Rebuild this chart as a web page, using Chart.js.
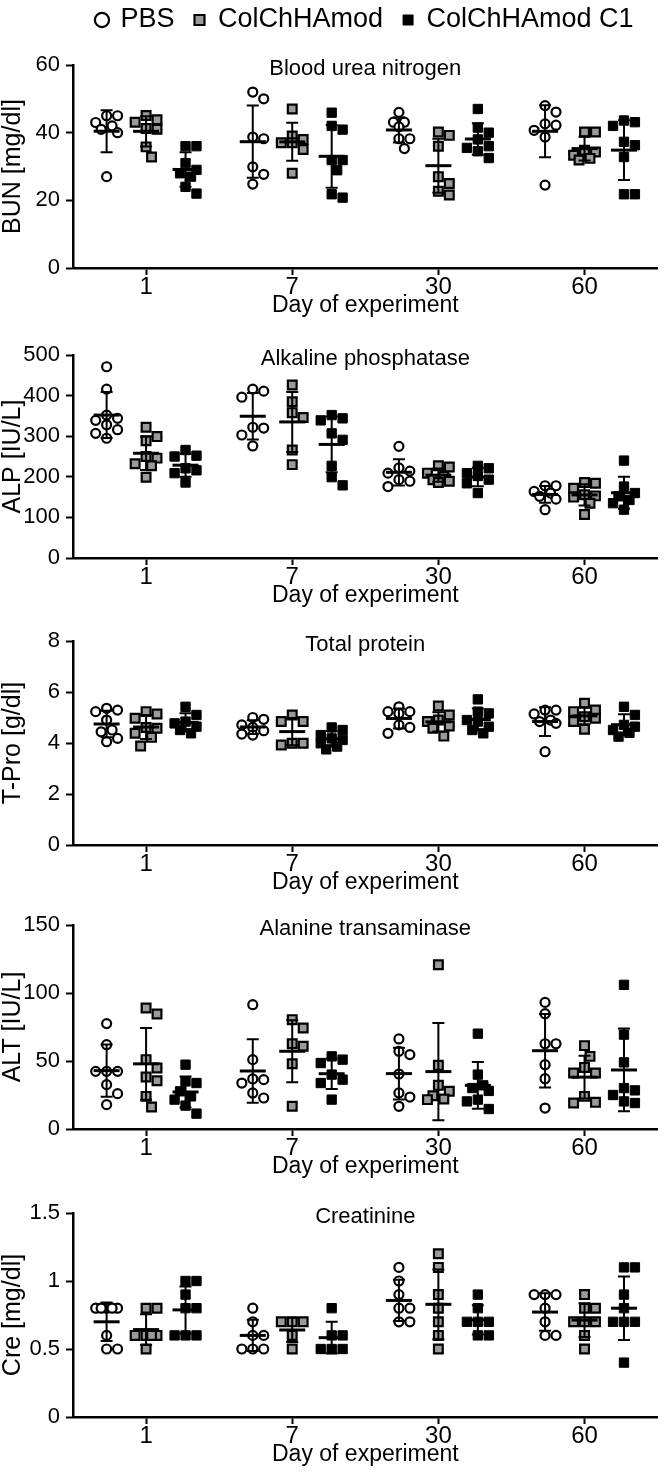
<!DOCTYPE html>
<html>
<head>
<meta charset="utf-8">
<script src="https://cdn.jsdelivr.net/npm/chart.js@4.4.1/dist/chart.umd.min.js"></script>
<style>
  html, body { margin: 0; padding: 0; background: #fff; }
  .panel { position: relative; width: 666px; }
</style>
</head>
<body>
<div class="panel" style="height:330px"><canvas id="c0"></canvas></div>
<div class="panel" style="height:285px"><canvas id="c1"></canvas></div>
<div class="panel" style="height:285px"><canvas id="c2"></canvas></div>
<div class="panel" style="height:288px"><canvas id="c3"></canvas></div>
<div class="panel" style="height:285px"><canvas id="c4"></canvas></div>
<script>
const DAYS = ['1', '7', '30', '60']
const GROUPS = ['PBS', 'ColChHAmod', 'ColChHAmod C1']

// one inner array per day (1, 7, 30, 60), one value per animal
const BUN_PBS = [[45, 45, 43, 42, 41, 40, 27], [52, 50, 38.7, 38.2, 29.9, 27.7, 24.8], [46, 43.1, 43.1, 41.7, 38.2, 38.2, 35.3], [48, 46.1, 42.6, 42.2, 40.7, 38.7, 24.5]]
const BUN_COL = [[45.1, 43.8, 43.1, 41.2, 41, 35.8, 32.8], [47, 39, 38, 37, 37, 35, 28], [40.2, 39.2, 36, 27, 25, 22.7, 21.6], [40.2, 40.2, 34.8, 34.3, 33.3, 32.4, 31.9]]
const BUN_C1 = [[36, 36, 31, 29, 28, 27, 24, 22], [45.9, 42, 40.9, 31.9, 31.9, 28.9, 21.8, 20.8], [47, 41.5, 40, 38, 36, 35.5, 34.5, 32.5], [43.6, 43.1, 42, 37.3, 36.3, 32.8, 21.8, 21.8]]

const ALP_PBS = [[471, 416, 352, 344, 339, 328, 316, 307, 295], [416, 411, 396, 322, 320, 303, 276], [275, 222, 214, 209, 193, 189, 176], [178, 178, 164, 160, 152, 145, 119]]
const ALP_COL = [[322, 299, 289, 250, 246, 232, 227, 199], [426, 385, 358, 346, 266, 230], [227, 224, 209, 201, 193, 189, 186], [186, 184, 172, 156, 153, 150, 135, 107]]
const ALP_C1 = [[266, 252, 250, 221, 216, 209, 186], [352, 344, 339, 307, 291, 227, 199, 179], [227, 221, 209, 202, 193, 184, 160], [240, 176, 160, 152, 143, 135, 119]]

const TPRO_PBS = [[5.36, 5.29, 5.23, 4.9, 4.51, 4.44, 4.18, 4.05], [5.0, 4.93, 4.71, 4.61, 4.48, 4.35, 4.31], [5.42, 5.23, 5.23, 5.16, 4.71, 4.61, 4.38], [5.29, 5.29, 5.14, 4.9, 4.84, 4.77, 3.66]]
const TPRO_COL = [[5.23, 5.14, 4.97, 4.61, 4.58, 4.38, 4.22, 3.88], [5.1, 4.84, 4.84, 3.99, 3.99, 3.92], [5.45, 5.1, 4.9, 4.84, 4.67, 4.58, 4.27], [5.56, 5.29, 5.23, 5.03, 4.97, 4.84, 4.54]]
const TPRO_C1 = [[5.42, 5.1, 4.84, 4.77, 4.64, 4.51, 4.38], [4.61, 4.51, 4.31, 4.18, 4.12, 3.99, 3.86, 3.75], [5.71, 5.23, 5.16, 4.9, 4.84, 4.64, 4.51, 4.38], [5.42, 5.1, 4.71, 4.64, 4.51, 4.4, 4.25]]

const ALT_PBS = [[77.5, 62, 42.4, 42.4, 42.4, 32.6, 26, 17.9], [91.4, 51, 36.8, 36.3, 33.8, 26.5, 22.8], [66.2, 57.1, 54.7, 40.4, 26.5, 23.5, 16.7], [93.1, 84.8, 62.7, 62.7, 47.3, 37, 15.4]]
const ALT_COL = [[89, 84.6, 51, 44.9, 38.2, 35.5, 24, 16.2], [80.4, 74.3, 62.7, 60.8, 48, 16.7], [120.8, 46.8, 32.1, 27.7, 24.5, 22, 21.6], [61.3, 53.4, 45.3, 41.2, 41.2, 24, 19.6, 19.1]]
const ALT_C1 = [[47.3, 35, 33.8, 27.7, 24, 21.6, 17.2, 11.3], [53.4, 51, 48.5, 40, 36.3, 33.8, 21.6], [70.1, 40, 32.1, 30.1, 28, 21.6, 20.3, 14.7], [106, 69.4, 49, 30.1, 28.4, 25, 20.3, 19.1]]

const CRE_PBS = [[0.8, 0.8, 0.8, 0.8, 0.8, 0.6, 0.5, 0.5], [0.8, 0.7, 0.6, 0.6, 0.5, 0.5, 0.5], [1.1, 1.0, 0.9, 0.8, 0.8, 0.7, 0.7], [0.9, 0.9, 0.9, 0.8, 0.7, 0.6, 0.6]]
const CRE_COL = [[0.8, 0.8, 0.6, 0.6, 0.6, 0.6, 0.5], [0.7, 0.7, 0.7, 0.6, 0.5], [1.2, 1.1, 0.9, 0.8, 0.7, 0.6, 0.5], [0.9, 0.8, 0.8, 0.7, 0.7, 0.7, 0.6, 0.5]]
const CRE_C1 = [[1.0, 1.0, 0.9, 0.8, 0.8, 0.6, 0.6, 0.6], [0.8, 0.6, 0.6, 0.5, 0.5, 0.5], [0.9, 0.8, 0.7, 0.7, 0.7, 0.6, 0.6], [1.1, 1.1, 0.9, 0.8, 0.7, 0.7, 0.7, 0.4]]

const PANELS = [
  { title: 'Blood urea nitrogen', yTitle: 'BUN [mg/dl]', yMax: 60, yStep: 20, groups: [BUN_PBS, BUN_COL, BUN_C1] },
  { title: 'Alkaline phosphatase', yTitle: 'ALP [IU/L]', yMax: 500, yStep: 100, groups: [ALP_PBS, ALP_COL, ALP_C1] },
  { title: 'Total protein', yTitle: 'T-Pro [g/dl]', yMax: 8, yStep: 2, groups: [TPRO_PBS, TPRO_COL, TPRO_C1] },
  { title: 'Alanine transaminase', yTitle: 'ALT [IU/L]', yMax: 150, yStep: 50, groups: [ALT_PBS, ALT_COL, ALT_C1] },
  { title: 'Creatinine', yTitle: 'Cre [mg/dl]', yMax: 1.5, yStep: 0.5, groups: [CRE_PBS, CRE_COL, CRE_C1] }
]

// layout per canvas: outer padding and title offset so the plots line up like the figure
const LAYOUT = [
  { top: -13.5, titleTop: 12.3, bottom: 13 },
  { top: 0, titleTop: 15.8, bottom: 8 },
  { top: 0, titleTop: 16.8, bottom: 6 },
  { top: 0, titleTop: 15.8, bottom: 10 },
  { top: 0, titleTop: 15.8, bottom: 7 }
]

const GROUP_SHIFT = [-0.27, 0, 0.27]
const GROUP_STYLE = [
  { pointStyle: 'circle', pointRadius: 4.5, pointBackgroundColor: '#fff', pointBorderColor: '#000', pointBorderWidth: 2.2 },
  { pointStyle: 'rect', pointRadius: 6.2, pointBackgroundColor: '#9a9a9a', pointBorderColor: '#000', pointBorderWidth: 2.2 },
  { pointStyle: 'rect', pointRadius: 6.6, pointBackgroundColor: '#000', pointBorderColor: '#000', pointBorderWidth: 1 }
]

const MARK = 11
const STEP = 5.5
const PX_PER_DAY = 147
const PLOT_H = 204

Chart.defaults.font.family = "'Liberation Sans', Arial, Helvetica, sans-serif"
Chart.defaults.color = '#000'

// spread points sideways when they would overlap (scatter dot plot)
function spread(vals, yMax) {
  const pxPerUnit = PLOT_H / yMax
  const order = vals.map((v, i) => i).sort((a, b) => vals[b] - vals[a])
  const placed = []
  const out = []
  order.forEach(i => {
    const py = vals[i] * pxPerUnit
    let best = 0, bestGap = -1
    for (let k = 0; k <= 4; k++) {
      const dx = (k % 2 ? 1 : -1) * Math.ceil(k / 2) * STEP
      const gap = placed.length ? Math.min(...placed.map(p => Math.hypot(p.x - dx, p.y - py))) : Infinity
      if (gap >= MARK) { best = dx; bestGap = gap; break }
      if (gap > bestGap) { best = dx; bestGap = gap }
    }
    placed.push({ x: best, y: py })
    out[i] = best
  })
  return out
}

function meanSd(vals) {
  const n = vals.length
  const mean = vals.reduce((a, b) => a + b, 0) / n
  const sd = Math.sqrt(vals.reduce((a, v) => a + (v - mean) ** 2, 0) / (n - 1))
  return { mean, sd }
}

function errorBars(panel) {
  return {
    id: 'errorBars',
    afterDatasetsDraw(chart) {
      const { ctx, scales: { x, y } } = chart
      ctx.save()
      ctx.strokeStyle = '#000'
      panel.groups.forEach((days, g) => {
        days.forEach((vals, d) => {
          const { mean, sd } = meanSd(vals)
          const cx = x.getPixelForValue(d + GROUP_SHIFT[g])
          const yHi = y.getPixelForValue(mean + sd)
          const yLo = y.getPixelForValue(Math.max(mean - sd, 0))
          const yM = y.getPixelForValue(mean)
          ctx.lineWidth = 2
          ctx.beginPath()
          ctx.moveTo(cx, yHi); ctx.lineTo(cx, yLo)
          ctx.moveTo(cx - 6, yHi); ctx.lineTo(cx + 6, yHi)
          ctx.moveTo(cx - 6, yLo); ctx.lineTo(cx + 6, yLo)
          ctx.stroke()
          ctx.lineWidth = 3
          ctx.beginPath()
          ctx.moveTo(cx - 13, yM); ctx.lineTo(cx + 13, yM)
          ctx.stroke()
        })
      })
      ctx.restore()
    }
  }
}

PANELS.forEach((p, i) => {
  const L = LAYOUT[i]
  const datasets = p.groups.map((days, g) => {
    const pts = []
    days.forEach((vals, d) => {
      const offs = spread(vals, p.yMax)
      vals.forEach((v, k) => pts.push({ x: d + GROUP_SHIFT[g] + offs[k] / PX_PER_DAY, y: v }))
    })
    return Object.assign({ label: GROUPS[g], data: pts }, GROUP_STYLE[g])
  })

  new Chart(document.getElementById('c' + i), {
    type: 'scatter',
    data: { datasets },
    options: {
      responsive: true,
      maintainAspectRatio: false,
      animation: false,
      events: [],
      layout: { padding: { top: L.top, right: 3, bottom: L.bottom, left: 0 } },
      plugins: {
        legend: {
          display: i === 0,
          position: 'top',
          fullSize: false,
          labels: { usePointStyle: true, boxWidth: 10, boxHeight: 10, padding: 20, color: '#000', font: { size: 27 } }
        },
        title: {
          display: true,
          text: p.title,
          fullSize: false,
          weight: 500,
          color: '#000',
          font: { size: 22, weight: 'normal' },
          padding: { top: L.titleTop, bottom: -17.2 }
        },
        tooltip: { enabled: false }
      },
      scales: {
        x: {
          type: 'linear',
          min: -0.5,
          max: 3.5,
          afterBuildTicks: s => { s.ticks = DAYS.map((_, k) => ({ value: k })) },
          ticks: { callback: v => DAYS[v], color: '#000', padding: 0, maxRotation: 0, font: { size: 24, lineHeight: 1 } },
          grid: { display: true, drawOnChartArea: false, drawTicks: true, tickLength: 7, tickWidth: 2, tickColor: '#000' },
          border: { display: true, color: '#000', width: 2.5 },
          title: { display: true, text: 'Day of experiment', color: '#000', font: { size: 23, lineHeight: 1 }, padding: { top: -5, bottom: 0 } }
        },
        y: {
          min: 0,
          max: p.yMax,
          afterFit: s => { s.width = 73 },
          ticks: { stepSize: p.yStep, callback: v => String(+v.toFixed(2)), color: '#000', padding: 6, font: { size: 22, lineHeight: 1 } },
          grid: { display: true, drawOnChartArea: false, drawTicks: true, tickLength: 7, tickWidth: 2, tickColor: '#000' },
          border: { display: true, color: '#000', width: 2.5 },
          title: { display: true, text: p.yTitle, color: '#000', font: { size: 25, lineHeight: 1 }, padding: { top: 1, bottom: 0 } }
        }
      }
    },
    plugins: [errorBars(p)]
  })
})
</script>
</body>
</html>
